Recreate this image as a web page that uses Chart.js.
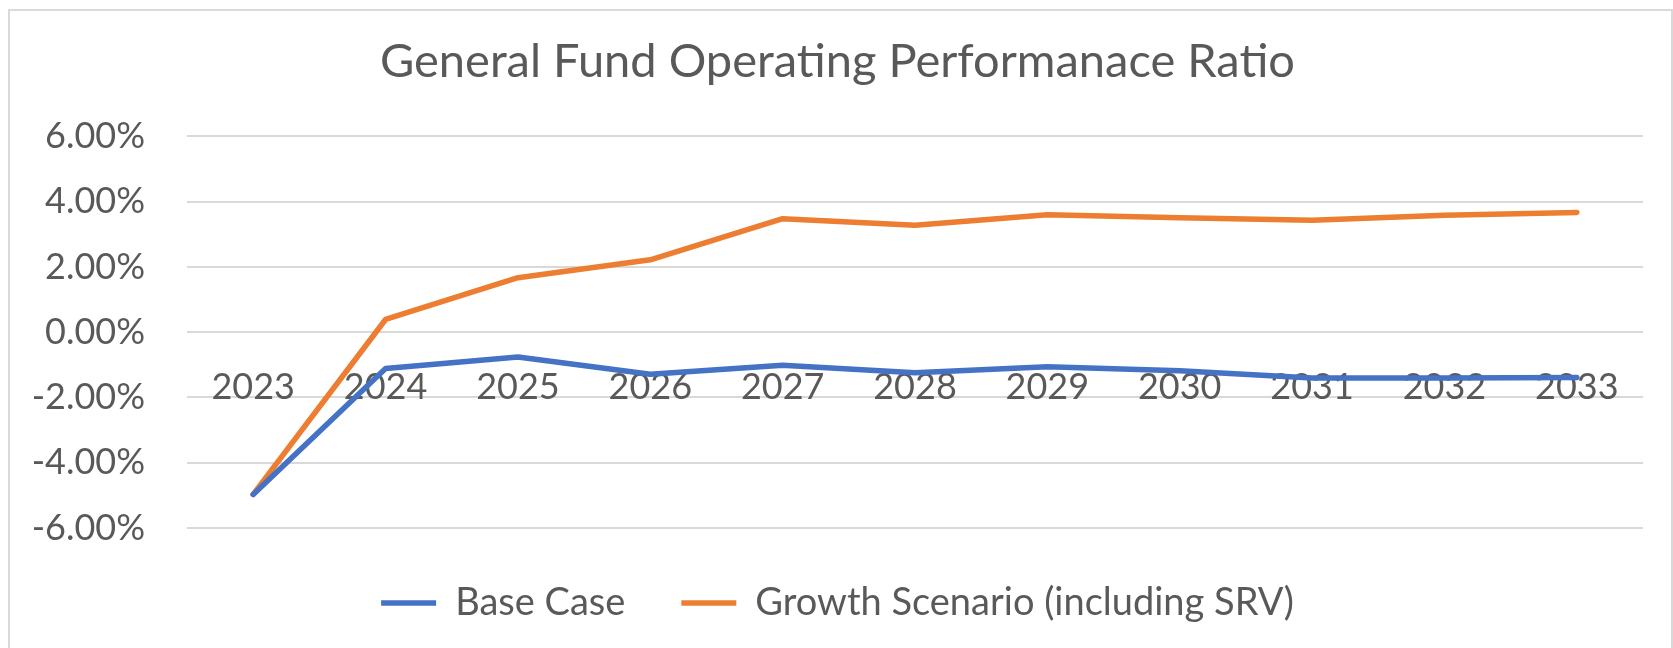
<!DOCTYPE html>
<html>
<head>
<meta charset="utf-8">
<script src="https://cdn.jsdelivr.net/npm/chart.js@4"></script>
<style>
  html, body { margin: 0; padding: 0; overflow: hidden; background: #fff; }
  #wrap { position: relative; width: 1673px; height: 648px; }
  #frame {
    position: absolute; left: 8px; top: 9px; width: 1665px; height: 700px;
    box-sizing: border-box; border: 2px solid #d9d9d9; pointer-events: none;
  }
</style>
</head>
<body>
<div id="wrap">
  <canvas id="myChart" width="1673" height="648"></canvas>
  <div id="frame"></div>
</div>
<script>
/* valores (em %) */
const years = ["2023", "2024", "2025", "2026", "2027", "2028", "2029", "2030", "2031", "2032", "2033"];
const baseCase = [-4.97, -1.11, -0.76, -1.29, -1.01, -1.24, -1.06, -1.18, -1.40, -1.40, -1.39];
const growthSrv = [-4.97, 0.39, 1.67, 2.22, 3.48, 3.28, 3.60, 3.51, 3.43, 3.58, 3.67];
const yTicks = [-6, -4, -2, 0, 2, 4, 6];

const textColor = "#595959";
const fontName = "Lato, 'Open Sans', sans-serif";

const ctx1 = document.getElementById("myChart").getContext("2d");

const data1 = {
  labels: years,
  datasets: [
    {
      label: "Base Case",
      data: baseCase,
      borderColor: "#4472C4",
      backgroundColor: "#4472C4",
      borderWidth: 5.5,
      borderCapStyle: "round",
      borderJoinStyle: "round",
      pointRadius: 0,
      tension: 0,
    },
    {
      label: "Growth Scenario (including SRV)",
      data: growthSrv,
      borderColor: "#ED7D31",
      backgroundColor: "#ED7D31",
      borderWidth: 5.5,
      borderCapStyle: "round",
      borderJoinStyle: "round",
      pointRadius: 0,
      tension: 0,
    },
  ],
};

const config1 = {
  type: "line",
  data: data1,
  options: {
    responsive: false,
    animation: false,
    layout: { padding: { left: 32, right: 30, top: 0, bottom: 16 } },
    plugins: {
      title: {
        display: true,
        text: "General Fund Operating Performanace Ratio",
        color: textColor,
        font: { family: fontName, size: 47, weight: "normal" },
        padding: { top: 34, bottom: 46 },
      },
      legend: {
        position: "bottom",
        labels: {
          color: textColor,
          font: { family: fontName, size: 38 },
          usePointStyle: true,
          pointStyle: "line",
          pointStyleWidth: 55,
          padding: 56,
        },
      },
      tooltip: { enabled: false },
    },
    scales: {
      x: {
        position: { y: 0 },
        offset: true,
        z: 1,
        grid: { display: false },
        border: { display: false },
        ticks: {
          color: textColor,
          font: { family: fontName, size: 36 },
          padding: 26,
          maxRotation: 0,
          autoSkip: false,
        },
      },
      y: {
        min: yTicks[0],
        max: yTicks[yTicks.length - 1],
        afterBuildTicks: (scale) => {
          scale.ticks = yTicks.map((v) => ({ value: v }));
        },
        afterFit: (scale) => {
          scale.width = 155;
        },
        grid: { color: "#d9d9d9", lineWidth: 2, drawTicks: false },
        border: { display: false },
        ticks: {
          color: textColor,
          font: { family: fontName, size: 36 },
          padding: 42,
          callback: (v) => v.toFixed(2) + "%",
        },
      },
    },
  },
};

const myChart1 = new Chart(ctx1, config1);
</script>
</body>
</html>
